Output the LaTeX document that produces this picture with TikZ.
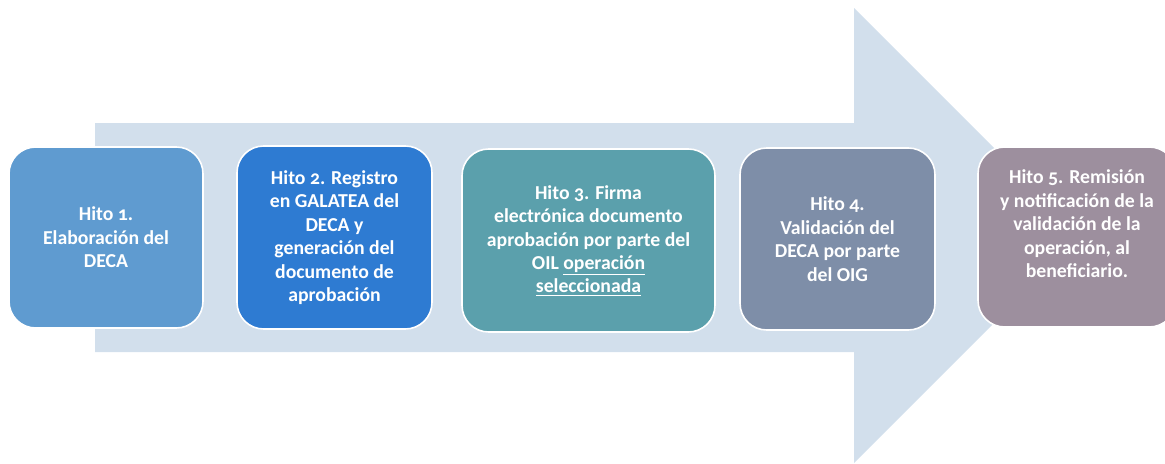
\documentclass[tikz,border=0pt]{standalone}
\usepackage{fontspec}
\setmainfont{Carlito}[Numbers=OldStyle]
\usetikzlibrary{calc}
\definecolor{flecha}{HTML}{D2DFEC}
\definecolor{hitoA}{HTML}{5F9BD0}
\definecolor{hitoB}{HTML}{2E7BD2}
\definecolor{hitoC}{HTML}{5BA0AC}
\definecolor{hitoD}{HTML}{7E8EA8}
\definecolor{hitoE}{HTML}{9D8F9E}
\tikzset{
    hito/.style={
        rectangle, rounded corners=20pt, draw=white, line width=1.2pt,
        text=white, align=center, inner sep=0pt,
        font=\bfseries\fontsize{14.8}{17.6}\selectfont
    }
}

\begin{document}
\begin{tikzpicture}[x=0.75pt,y=-0.75pt,line join=round]

% --- frame ---
    \useasboundingbox (0,0) rectangle (1165,464);
    \clip (0,0) rectangle (1165,464);

% big arrow behind the milestones
    \fill[flecha] (95,123) -- (854,123) -- (854,8) -- (1081.5,235.5)
        -- (854,463) -- (854,352) -- (95,352) -- cycle;

% milestones
    \node[hito, fill=hitoA, minimum width=145.5pt, minimum height=135.75pt]
        (hito1) at (106,237.5) {Hito 1.\\Elaboración del\\DECA};
    \node[hito, fill=hitoB, minimum width=146.25pt, minimum height=137.25pt]
        (hito2) at (334.5,237.5) {Hito 2. Registro\\en GALATEA del\\DECA y\\generación del\\documento de\\aprobación};
    \node[hito, fill=hitoC, minimum width=189.75pt, minimum height=137.25pt]
        (hito3) at (588.5,240.5) {Hito 3. Firma\\electrónica documento\\aprobación por parte del\\OIL \underline{operación}\\\underline{seleccionada}};
    \node[hito, fill=hitoD, minimum width=146.25pt, minimum height=136.5pt]
        (hito4) at (837.5,239) {Hito 4.\\Validación del\\DECA por parte\\del OIG};
    \node[hito, fill=hitoE, minimum width=148.5pt, minimum height=135pt]
        (hito5) at (1077,237) {};

% text of the last milestone sits a bit high
    \node[hito, draw=none, fill=none] (txt5) at ($ (hito5) + (0,-13) $)
        {Hito 5. Remisión\\y notificación de la\\validación de la\\operación, al\\beneficiario.};

\end{tikzpicture}
\end{document}
